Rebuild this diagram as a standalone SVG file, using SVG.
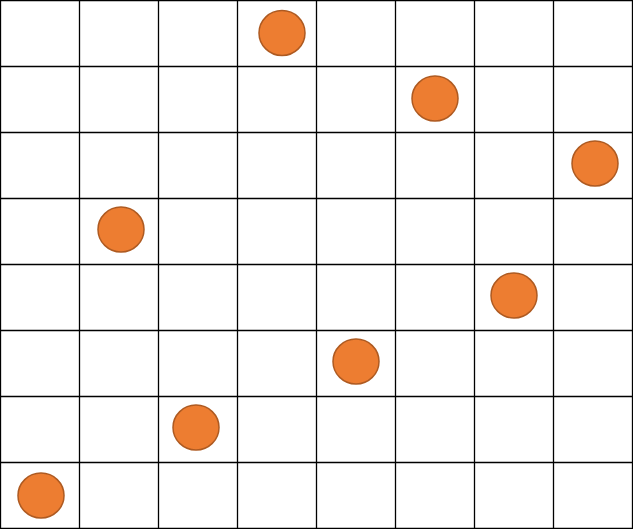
<svg xmlns="http://www.w3.org/2000/svg" width="633" height="529" viewBox="0 0 633 529">
<style>
.g line{stroke:#000;stroke-width:1.3}
.q{fill:#ED7D31;stroke:#AE5A21;stroke-width:1.5}
</style>
<rect width="633" height="529" fill="#fff"/>
<g id="grid" class="g">
<line x1="0.5" y1="0" x2="0.5" y2="529"/>
<line x1="79.5" y1="0" x2="79.5" y2="529"/>
<line x1="158.5" y1="0" x2="158.5" y2="529"/>
<line x1="237.5" y1="0" x2="237.5" y2="529"/>
<line x1="316.5" y1="0" x2="316.5" y2="529"/>
<line x1="395.5" y1="0" x2="395.5" y2="529"/>
<line x1="474.5" y1="0" x2="474.5" y2="529"/>
<line x1="553.5" y1="0" x2="553.5" y2="529"/>
<line x1="632.5" y1="0" x2="632.5" y2="529"/>
<line x1="0" y1="0.5" x2="633" y2="0.5"/>
<line x1="0" y1="66.5" x2="633" y2="66.5"/>
<line x1="0" y1="132.5" x2="633" y2="132.5"/>
<line x1="0" y1="198.5" x2="633" y2="198.5"/>
<line x1="0" y1="264.5" x2="633" y2="264.5"/>
<line x1="0" y1="330.5" x2="633" y2="330.5"/>
<line x1="0" y1="396.5" x2="633" y2="396.5"/>
<line x1="0" y1="462.5" x2="633" y2="462.5"/>
<line x1="0" y1="528.5" x2="633" y2="528.5"/>
</g>
<g id="q1"><ellipse class="q" cx="282" cy="33" rx="23" ry="22.5"/></g>
<g id="q2"><ellipse class="q" cx="435" cy="98.5" rx="23" ry="22.5"/></g>
<g id="q3"><ellipse class="q" cx="595" cy="163.5" rx="23" ry="22.5"/></g>
<g id="q4"><ellipse class="q" cx="121" cy="229.5" rx="23" ry="22.5"/></g>
<g id="q5"><ellipse class="q" cx="514" cy="295.5" rx="23" ry="22.5"/></g>
<g id="q6"><ellipse class="q" cx="356" cy="361.5" rx="23" ry="22.5"/></g>
<g id="q7"><ellipse class="q" cx="196" cy="427.5" rx="23" ry="22.5"/></g>
<g id="q8"><ellipse class="q" cx="41" cy="495.5" rx="23" ry="22.5"/></g>
</svg>
